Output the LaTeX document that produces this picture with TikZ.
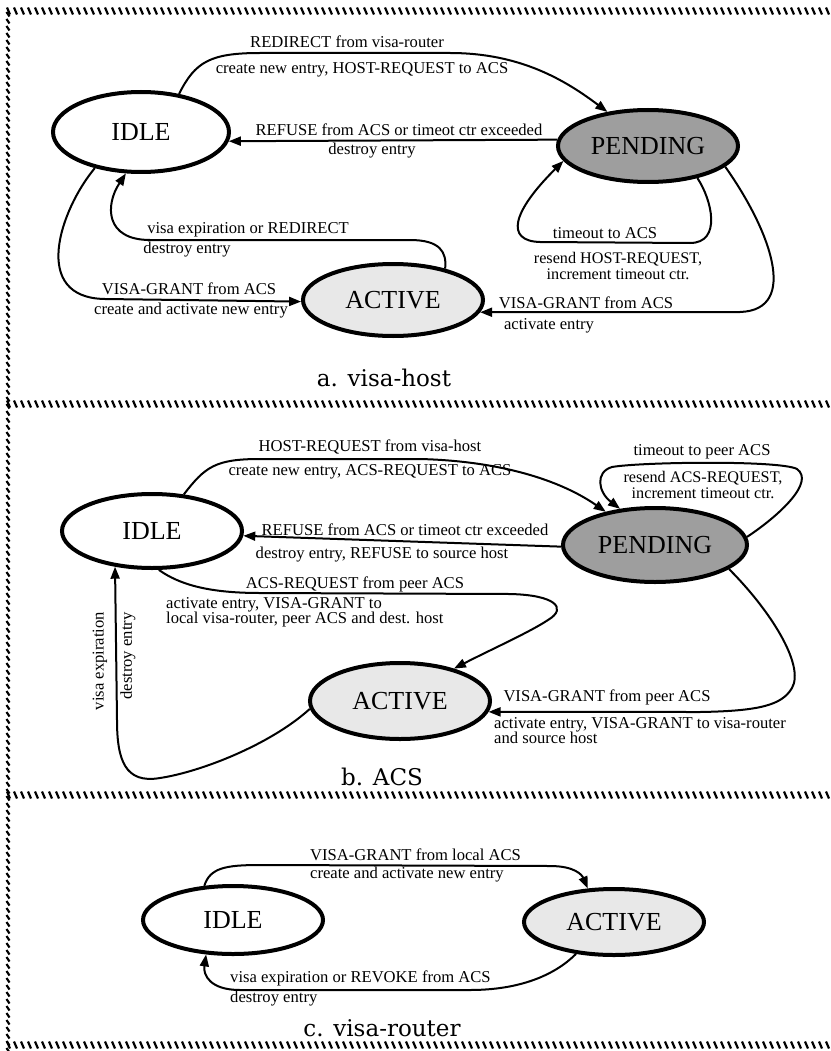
\documentclass[tikz,border=0pt]{standalone}
\usepackage{fontspec}
\setmainfont{Liberation Serif}
\newfontfamily\capfam{DejaVu Serif}
\usetikzlibrary{shapes.geometric,arrows.meta}
\newcommand{\labfont}{\fontsize{16.6}{19}\selectfont}
\newcommand{\tightfont}{\fontsize{16.6}{15.5}\selectfont}
\newcommand{\smallfont}{\fontsize{16.2}{15.5}\selectfont}
\newcommand{\capfont}{\capfam\fontsize{23}{26}\selectfont}
\tikzset{
  st/.style={ellipse, draw, line width=4pt, inner sep=0pt, font=\fontsize{26}{26}\selectfont},
  idle/.style={st, fill=white},
  pend/.style={st, fill=black!38},
  act/.style={st, fill=black!9},
  tr/.style={line width=2pt, -{Triangle[length=12pt,width=9pt]}},
  lbl/.style={inner sep=0pt, font=\labfont},
  lbltwo/.style={inner sep=0pt, font=\tightfont},
  lblsmall/.style={inner sep=0pt, font=\smallfont, align=center},
  captxt/.style={inner sep=0pt, font=\capfont},
  hatch/.style={line width=2.2pt},
}
\begin{document}
\begin{tikzpicture}[x=1pt,y=-1pt]
\useasboundingbox (0,0) rectangle (830,1051);
\fill[white] (0,0) rectangle (830,1051);
% hatched borders
\foreach \yy in {11,404,795,1045}{
  \foreach \i in {0,...,118}{
    \draw[hatch] ({7+7*\i},{\yy-3.5}) -- ({10+7*\i},{\yy+3.5});
  }
}
\foreach \j in {0,...,148}{
  \draw[hatch] (6.5,{12+7*\j}) -- (9.5,{16.5+7*\j});
}

% ---------- panel a ----------
\node[idle, minimum width=176pt, minimum height=80pt] (aI) at (141,132) {IDLE};
\node[pend, minimum width=180pt, minimum height=72pt] (aP) at (648,146) {PENDING};
\node[act, minimum width=180pt, minimum height=72pt] (aA) at (393,300) {ACTIVE};

\draw[tr] (aI.45) .. controls (195,62) and (210,53) .. (260,53) -- (450,53) .. controls (520,53) and (565,80) .. (aP.140);
\draw[tr] (aP.176) -- (aI.-6);
\draw[tr] (aP.-33) .. controls (712,200) and (722,243) .. (690,243) -- (540,242) .. controls (505,241) and (512,212) .. (aP.-170);
\draw[tr] (aP.-15) .. controls (770,230) and (800,310) .. (740,312) -- (aA.-8);
\draw[tr] (aA.31) .. controls (447,252) and (440,240) .. (410,240) -- (150,240) .. controls (105,240) and (105,205) .. (aI.-110);
\draw[tr] (aI.-142) .. controls (60,210) and (30,298) .. (105,299) -- (aA.181);

\node[lbl] (a1) at (347,42) {REDIRECT from visa-router};
\node[lbl] (a2) at (362,70) {create new entry, HOST-REQUEST to ACS};
\node[lbl] (a3) at (399,130) {REFUSE from ACS or timeot ctr exceeded};
\node[lbl] (a4) at (372,151) {destroy entry};
\node[lbl] (a5) at (248,230) {visa expiration or REDIRECT};
\node[lbl] (a6) at (187,250) {destroy entry};
\node[lbl] (a7) at (605,233) {timeout to ACS};
\node[lblsmall] (a8) at (618,266) {resend HOST-REQUEST,\\increment timeout ctr.};
\node[lbl] (a10) at (189,289) {VISA-GRANT from ACS};
\node[lbl] (a11) at (191,311) {create and activate new entry};
\node[lbl] (a12) at (586,303) {VISA-GRANT from ACS};
\node[lbl] (a13) at (549,326) {activate entry};
\node[captxt] (ca) at (384,378) {a. visa-host};

% ---------- panel b ----------
\node[idle, minimum width=180pt, minimum height=74pt] (bI) at (152,531) {IDLE};
\node[pend, minimum width=184pt, minimum height=74pt] (bP) at (655,545) {PENDING};
\node[act, minimum width=180pt, minimum height=76pt] (bA) at (400,701) {ACTIVE};

\draw[tr] (bI.49) .. controls (205,467) and (215,459) .. (260,459) -- (420,459) .. controls (500,461) and (560,480) .. (bP.146);
\draw[tr] (bP.5) .. controls (780,515) and (815,482) .. (797,469) .. controls (780,460) and (640,462) .. (612,467) .. controls (595,472) and (598,492) .. (bP.134);
\draw[tr] (bP.181) -- (bI.-3);
\draw[tr] (bI.-80) .. controls (180,585) and (210,593) .. (260,593) -- (510,594) .. controls (555,595) and (568,608) .. (548,620) .. controls (530,632) and (490,650) .. (bA.31);
\draw[tr] (bA.185) .. controls (270,745) and (200,772) .. (160,778) .. controls (125,784) and (117,760) .. (117,720) -- (bI.-136);
\draw[tr] (bP.-18) .. controls (770,610) and (805,665) .. (792,688) .. controls (782,705) and (760,711) .. (700,712) -- (bA.-7);

\node[lbl] (b1) at (370,447) {HOST-REQUEST from visa-host};
\node[lbl] (b2) at (370,472) {create new entry, ACS-REQUEST to ACS};
\node[lbl] (b3) at (702,452) {timeout to peer ACS};
\node[lblsmall] (b4) at (703,485) {resend ACS-REQUEST,\\increment timeout ctr.};
\node[lbl] (b6) at (405,530) {REFUSE from ACS or timeot ctr exceeded};
\node[lbl] (b7) at (382,555) {destroy entry, REFUSE to source host};
\node[lbl] (b8) at (355,584) {ACS-REQUEST from peer ACS};
\node[lbltwo, anchor=north west, align=left] (b9) at (166,597) {activate entry, VISA-GRANT to\\local visa-router, peer ACS and dest. host};
\node[lbl, rotate=90] (b11) at (100,661) {visa expiration};
\node[lbl, rotate=90] (b12) at (128,656) {destroy entry};
\node[lbl] (b13) at (607,697) {VISA-GRANT from peer ACS};
\node[lbltwo, anchor=north west, align=left] (b14) at (494,717) {activate entry, VISA-GRANT to visa-router\\and source host};
\node[captxt] (cb) at (382,777) {b. ACS};

% ---------- panel c ----------
\node[idle, minimum width=180pt, minimum height=68pt] (cI) at (233,920) {IDLE};
\node[act, minimum width=180pt, minimum height=66pt] (cA) at (614,922) {ACTIVE};

\draw[tr] (cI.130) .. controls (210,868) and (225,865) .. (260,865) -- (550,866) .. controls (575,866) and (582,875) .. (cA.128);
\draw[tr] (cA.-140) .. controls (555,975) and (520,990) .. (470,990) -- (240,990) .. controls (210,990) and (203,975) .. (cI.-128);

\node[lbl, anchor=west] (c1) at (310,855) {VISA-GRANT from local ACS};
\node[lbl, anchor=west] (c2) at (310,875) {create and activate new entry};
\node[lbl, anchor=west] (c3) at (230,978) {visa expiration or REVOKE from ACS};
\node[lbl, anchor=west] (c4) at (230,999) {destroy entry};
\node[captxt] (cc) at (382,1028) {c. visa-router};
\end{tikzpicture}
\end{document}
